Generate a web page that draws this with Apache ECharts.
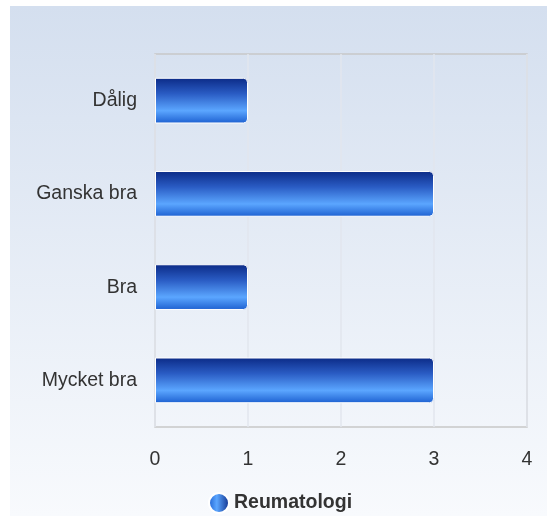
<!DOCTYPE html>
<html>
<head>
<meta charset="utf-8">
<script src="https://cdn.jsdelivr.net/npm/echarts@6/dist/echarts.min.js"></script>
<style>
  html, body { margin: 0; padding: 0; background: #fff; }
  #chart { width: 547px; height: 516px; }
</style>
</head>
<body>
<div id="chart"></div>
<script>
  // categories listed top to bottom
  const categories = ['Dålig', 'Ganska bra', 'Bra', 'Mycket bra']
  const values = [1, 3, 1, 3]
  const xTicks = [0, 1, 2, 3, 4]
  const seriesName = 'Reumatologi'

  const chart = echarts.init(document.getElementById('chart'))

  const barFill = new echarts.graphic.LinearGradient(0, 0, 0, 1, [
    { offset: 0, color: '#0b2a86' },
    { offset: 0.35, color: '#2a5cc4' },
    { offset: 0.72, color: '#5ba6ff' },
    { offset: 1, color: '#1c5fd0' }
  ])

  chart.setOption({
    animation: false,
    textStyle: { fontFamily: 'Liberation Sans, Arial, sans-serif' },
    graphic: [{
      type: 'rect',
      z: -10,
      shape: { x: 10, y: 6, width: 537, height: 510 },
      style: {
        fill: new echarts.graphic.LinearGradient(0, 0, 0, 1, [
          { offset: 0, color: '#d4dfef' },
          { offset: 1, color: '#f8fafd' }
        ])
      }
    }],
    grid: {
      left: 155, right: 20, top: 54, bottom: 89,
      show: true,
      borderColor: '#c8c8c8',
      borderWidth: 1.5,
      backgroundColor: 'transparent'
    },
    legend: {
      top: 487,
      left: 203,
      itemWidth: 20,
      itemHeight: 20,
      itemGap: 6,
      icon: 'circle',
      textStyle: { color: '#333', fontSize: 19.5, fontWeight: 'bold' },
      data: [{
        name: seriesName,
        itemStyle: {
          color: new echarts.graphic.LinearGradient(0, 0, 1, 0, [
            { offset: 0, color: '#1c5fd0' },
            { offset: 0.4, color: '#5ba6ff' },
            { offset: 1, color: '#0b2a86' }
          ])
        }
      }]
    },
    xAxis: {
      type: 'value',
      min: xTicks[0],
      max: xTicks[xTicks.length - 1],
      interval: 1,
      axisLine: { show: false },
      axisTick: { show: false },
      axisLabel: { color: '#333', fontSize: 19.5, margin: 23 },
      splitLine: { lineStyle: { color: '#e2e6ee', width: 1.5 } }
    },
    yAxis: {
      type: 'category',
      inverse: true,
      data: categories,
      axisLine: { show: false },
      axisTick: { show: false },
      axisLabel: { color: '#333', fontSize: 19.5, margin: 18, padding: [4, 0, 0, 0] },
      splitLine: { show: false }
    },
    series: [{
      name: seriesName,
      type: 'bar',
      data: values,
      barWidth: '49%',
      itemStyle: {
        color: barFill,
        borderColor: '#ffffff',
        borderWidth: 1,
        borderRadius: [0, 4, 4, 0]
      }
    }]
  })
</script>
</body>
</html>
